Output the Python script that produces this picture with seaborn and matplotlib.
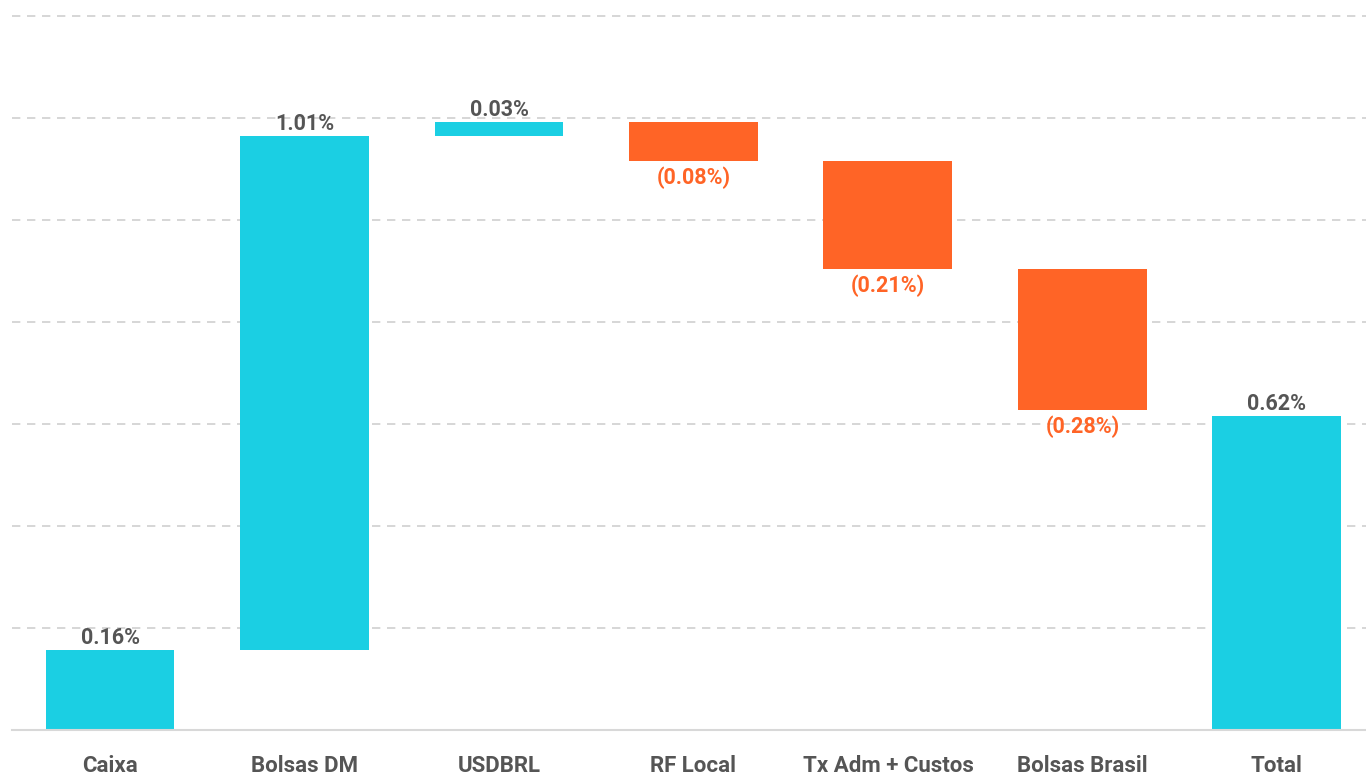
import numpy as np
import pandas as pd
import matplotlib
matplotlib.use("Agg")
import matplotlib.pyplot as plt
import seaborn as sns

categories = ["Caixa", "Bolsas DM", "USDBRL", "RF Local", "Tx Adm + Custos", "Bolsas Brasil", "Total"]
values = [0.157, 1.008, 0.027, -0.076, -0.212, -0.277, 0.616]
labels = ["0.16%", "1.01%", "0.03%", "(0.08%)", "(0.21%)", "(0.28%)", "0.62%"]
is_total = [False, False, False, False, False, False, True]

CYAN = "#1BCFE3"
ORANGE = "#FF6426"
GRAY_TXT = "#555555"

# waterfall bases
bases, heights = [], []
running = 0.0
for v, t in zip(values, is_total):
    if t:
        bases.append(0.0)
        heights.append(v)
    else:
        if v >= 0:
            bases.append(running)
            heights.append(v)
        else:
            bases.append(running + v)
            heights.append(-v)
        running += v

df = pd.DataFrame({"cat": categories, "height": heights, "base": bases, "value": values})

sns.set_theme(style="white")
plt.rcParams["font.family"] = ["Roboto", "DejaVu Sans"]

fig = plt.figure(figsize=(13.66, 7.76), dpi=100)
ax = fig.add_axes([12 / 1366, 1 - 730 / 776, 1 - 12 / 1366, 730 / 776])

sns.barplot(data=df, x="cat", y="height", order=categories, bottom=np.array(bases),
            color=CYAN, width=0.663, saturation=1, ax=ax, errorbar=None, linewidth=0)

for p, v in zip(ax.patches, values):
    p.set_facecolor(CYAN if v >= 0 else ORANGE)

for i, (b, h, v, lab) in enumerate(zip(bases, heights, values, labels)):
    if v >= 0:
        ax.annotate(lab, (i, b + h), xytext=(0, 0.5), textcoords="offset points",
                    ha="center", va="bottom", fontsize=15.5, fontweight="bold", color=GRAY_TXT)
    else:
        ax.annotate(lab, (i, b), xytext=(0, -4), textcoords="offset points",
                    ha="center", va="top", fontsize=15.5, fontweight="bold", color=ORANGE)

ax.set_xlim(-0.504, 6.458)
ax.set_ylim(0, 1.431)
ax.set_yticks(np.arange(0.2, 1.41, 0.2))
ax.yaxis.grid(True, color="#D0D0D0", linestyle=(0, (5, 4)), linewidth=1.2)
ax.set_axisbelow(True)
ax.set_yticklabels([])
ax.tick_params(axis="y", length=0)
ax.tick_params(axis="x", length=0, pad=18, labelsize=16, labelcolor=GRAY_TXT)
for t in ax.get_xticklabels():
    t.set_fontweight("bold")
ax.set_xlabel("")
ax.set_ylabel("")
for s in ["top", "left", "right"]:
    ax.spines[s].set_visible(False)
ax.spines["bottom"].set_color("#D8D8D8")
ax.spines["bottom"].set_linewidth(1.5)

fig.savefig("out.png", dpi=100)
